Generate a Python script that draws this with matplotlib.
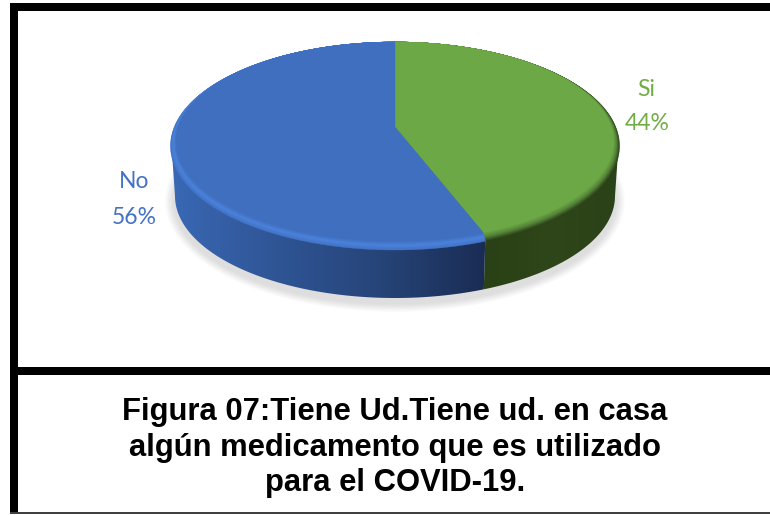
import numpy as np
import matplotlib
matplotlib.use('Agg')
import matplotlib.pyplot as plt
from matplotlib.colors import LinearSegmentedColormap, to_rgb
from matplotlib.patches import Polygon, Rectangle

labels = ['Si', 'No']
values = [44, 56]
title_lines = ['Figura 07:Tiene Ud.Tiene ud. en casa',
               'algún medicamento que es utilizado',
               'para el COVID-19.']


def mix(c1, c2, t):
    a, b = np.array(to_rgb(c1)), np.array(to_rgb(c2))
    return tuple(a + (b - a) * t)


# pie geometry in pixels
cx, cy, rx, ry = 395, 146, 224.5, 104
apex_y = 127
cy2, rx2, ry2 = 196, 220, 102
persp = 0.1

fig = plt.figure(figsize=(7.7, 5.15), dpi=100)
ax = fig.add_axes([0, 0, 1, 1])
ax.set_xlim(0, 770)
ax.set_ylim(515, 0)
ax.axis('off')

# slice angles, clockwise from the top, bent a little for the 3d perspective
ends = np.cumsum(values) / sum(values) * 2 * np.pi
ends = np.arctan2(np.sin(ends) * np.sqrt(1 - persp ** 2), np.cos(ends) + persp) % (2 * np.pi)
ends[-1] = 2 * np.pi
starts = np.r_[0, ends[:-1]]


def arc(a0, a1, cxx, cyy, rxx, ryy, n=200):
    a = np.linspace(a0, a1, n)
    return np.c_[cxx + rxx * np.sin(a), cyy - ryy * np.cos(a)]


# soft shadow under the pie
for k in range(12):
    t = np.linspace(0, 2 * np.pi, 200)
    grow = 10 - k * 0.8
    ax.fill(cx + (rx2 + grow) * np.cos(t), 201 + (ry2 + grow * 0.9) * np.sin(t),
            color='#808080', alpha=0.02, lw=0, zorder=1)

# side wall, only the front half shows
split = starts[1]
wall_cols = [
    (np.pi / 2, split, LinearSegmentedColormap.from_list('g', ['#2a4016', '#2e4619', '#2b4118'])),
    (split, 1.5 * np.pi, LinearSegmentedColormap.from_list('b', ['#1a2c54', '#264478', '#2f5595', '#3a68b4'])),
]
for a0, a1, cmap in wall_cols:
    a = arc(a0, a1, cx, cy, rx - 1, ry - 1)
    b = arc(a0, a1, cx, cy2, rx2, ry2)[::-1]
    poly = Polygon(np.vstack([a, b]), closed=True, fc='none', ec='none', zorder=2)
    ax.add_patch(poly)
    xs = np.vstack([a, b])[:, 0]
    img = ax.imshow(np.linspace(0, 1, 256)[None, :], cmap=cmap, aspect='auto',
                    extent=[xs.min(), xs.max(), 310, 100], zorder=2)
    if cmap.name == 'b':
        img.set_data(np.linspace(1, 0, 256)[None, :])
    img.set_clip_path(poly)
ax.set_xlim(0, 770)
ax.set_ylim(515, 0)

# top face with a bevelled rim, nested so the top edge stays fixed
face = {'Si': ('#6ca845', '#55843a', '#2d4419'), 'No': ('#3f6fbe', '#4c82dc', '#4274c6')}
for i, name in enumerate(labels):
    inner, mid, outer = face[name]
    for t in np.linspace(1, 0, 14):
        if t > 0.5:
            col = mix(mid, outer, (t - 0.5) * 2)
        else:
            col = mix(inner, mid, t * 2)
        rr = 1 - t
        pts = arc(starts[i], ends[i], cx, cy - 4.5 * rr, rx - 6 * rr, ry - 4.5 * rr)
        pts = np.vstack([[cx, apex_y], pts])
        ax.add_patch(Polygon(pts, closed=True, fc=col, ec=col, lw=0.3, zorder=3 + rr))

# data labels
ax.text(646, 90, 'Si', color='#70ad47', fontsize=16.5, family='Lato',
        ha='center', va='center', zorder=6)
ax.text(647, 123, '44%', color='#70ad47', fontsize=16.5, family='Lato',
        ha='center', va='center', zorder=6)
ax.text(134, 181, 'No', color='#4472c4', fontsize=16.5, family='Lato',
        ha='center', va='center', zorder=6)
ax.text(134, 217, '56%', color='#4472c4', fontsize=16.5, family='Lato',
        ha='center', va='center', zorder=6)

# frame
for x, y, w, h, c in [(10, 3, 760, 8, 'black'), (10, 3, 8, 510, 'black'),
                      (10, 367, 760, 8, 'black'), (10, 512, 760, 2, '#404040')]:
    ax.add_patch(Rectangle((x, y), w, h, fc=c, ec='none', zorder=7))

# caption
for line, y in zip(title_lines, [412, 448, 483]):
    ax.text(395, y, line, fontsize=22.3, fontweight='bold', family='Liberation Sans',
            ha='center', va='center', color='black', zorder=8)

fig.savefig('out.png', dpi=100, facecolor='white')
